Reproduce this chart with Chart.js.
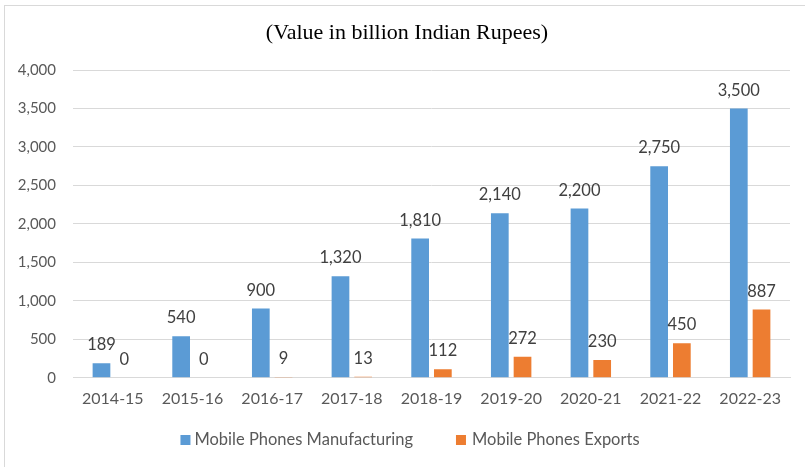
<!DOCTYPE html>
<html>
<head>
<meta charset="utf-8">
<script src="https://cdn.jsdelivr.net/npm/chart.js@4.4.1/dist/chart.umd.min.js"></script>
<style>
  html, body { margin: 0; padding: 0; background: #fff; }
  #frame { position: absolute; left: 4px; top: 5px; width: 820px; height: 480px;
           border-left: 1px solid #d9d9d9; border-top: 1px solid #d9d9d9; }
  #wrap { position: absolute; left: 0; top: 0; width: 805px; height: 467px; }
</style>
</head>
<body>
<div id="frame"></div>
<div id="wrap"><canvas id="chart" width="805" height="467"></canvas></div>
<script>
const years = ['2014-15', '2015-16', '2016-17', '2017-18', '2018-19', '2019-20', '2020-21', '2021-22', '2022-23'];
const manufacturing = [189, 540, 900, 1320, 1810, 2140, 2200, 2750, 3500];
const exportsVal = [0, 0, 9, 13, 112, 272, 230, 450, 887];
const yTicks = [0, 500, 1000, 1500, 2000, 2500, 3000, 3500, 4000];
const titleText = '(Value in billion Indian Rupees)';

const FONT = "Lato, 'Open Sans', sans-serif";

// labels above the bars
const barLabels = {
    id: 'barLabels',
    afterDatasetsDraw(chart) {
        const ctx = chart.ctx;
        ctx.save();
        ctx.font = '16.5px ' + FONT;
        ctx.fillStyle = '#404040';
        ctx.textAlign = 'center';
        ctx.textBaseline = 'bottom';
        chart.data.datasets.forEach((ds, i) => {
            chart.getDatasetMeta(i).data.forEach((bar, j) => {
                ctx.fillText(ds.data[j].toLocaleString('en-US'), bar.x, bar.y - 10);
            });
        });
        ctx.restore();
    }
};

// title and legend drawn by hand so they sit where the original has them
const frameText = {
    id: 'frameText',
    afterDraw(chart) {
        const ctx = chart.ctx;
        ctx.save();
        ctx.font = "22px 'Liberation Serif', serif";
        ctx.fillStyle = '#000';
        ctx.textAlign = 'center';
        ctx.textBaseline = 'middle';
        ctx.fillText(titleText, 407, 33);

        ctx.font = '16.5px ' + FONT;
        ctx.textAlign = 'left';
        const ds = chart.data.datasets;
        const w0 = ctx.measureText(ds[0].label).width;
        const w1 = ctx.measureText(ds[1].label).width;
        const total = 10 + 4 + w0 + 43 + 10 + 6 + w1;
        let x = 410 - total / 2;
        const y = 440;
        ds.forEach((d, i) => {
            ctx.fillStyle = d.backgroundColor;
            ctx.fillRect(x, y - 5, 10, 10);
            x += i === 0 ? 14 : 16;
            ctx.fillStyle = '#595959';
            ctx.fillText(d.label, x, y);
            x += (i === 0 ? w0 : w1) + 43;
        });
        ctx.restore();
    }
};

new Chart(document.getElementById('chart'), {
    type: 'bar',
    data: {
        labels: years,
        datasets: [
            { label: 'Mobile Phones Manufacturing', data: manufacturing, backgroundColor: '#5B9BD5',
              categoryPercentage: 0.57, barPercentage: 0.78 },
            { label: 'Mobile Phones Exports', data: exportsVal, backgroundColor: '#ED7D31',
              categoryPercentage: 0.57, barPercentage: 0.78 }
        ]
    },
    options: {
        responsive: false,
        animation: false,
        layout: { padding: { left: 5, right: 15, top: 70, bottom: 56 } },
        plugins: {
            title: { display: false },
            legend: { display: false },
            tooltip: { enabled: false }
        },
        scales: {
            x: {
                grid: { display: false },
                border: { color: '#d9d9d9' },
                ticks: { color: '#595959', font: { family: FONT, size: 16 }, padding: 3 }
            },
            y: {
                min: 0, max: 4000,
                afterBuildTicks(scale) { scale.ticks = yTicks.map(v => ({ value: v })); },
                afterFit(scale) { scale.width = 68; },
                grid: { color: '#d9d9d9', drawTicks: false },
                border: { display: false },
                ticks: {
                    color: '#595959', font: { family: FONT, size: 15 }, padding: 17,
                    callback: v => v.toLocaleString('en-US')
                }
            }
        }
    },
    plugins: [barLabels, frameText]
});
</script>
</body>
</html>
